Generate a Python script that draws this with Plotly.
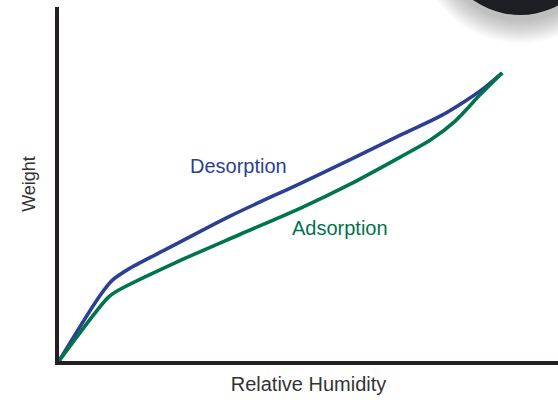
import plotly.graph_objects as go

# Relative humidity (% of full scale) and weight (% of full scale)
desorption_rh = [0, 9.3, 12.0, 16.0, 25.1, 38.6, 54.4, 65.7, 77.0, 86.0, 91.7, 96.2, 100]
desorption_wt = [0, 22.8, 28.0, 32.2, 39.5, 50.3, 61.6, 69.9, 78.4, 85.0, 90.3, 95.1, 100]

adsorption_rh = [0, 11.1, 13.3, 26.2, 40.9, 54.4, 65.7, 77.0, 83.8, 89.4, 95.0, 100]
adsorption_wt = [0, 22.1, 24.5, 34.1, 44.0, 53.0, 61.4, 70.8, 76.7, 83.3, 92.4, 100]

labels = ["Desorption", "Adsorption"]
label_rh = [40.4, 63.4]
label_wt = [67.7, 46.1]

BLUE = "#2b3f94"
GREEN = "#00744a"
AXIS = "#231f20"
FONT = "Liberation Sans, Arial, Helvetica, sans-serif"

fig = go.Figure()
fig.add_trace(go.Scatter(x=desorption_rh, y=desorption_wt, mode="lines",
                         line=dict(color=BLUE, width=3.6, shape="spline", smoothing=0.9),
                         cliponaxis=False, showlegend=False, hoverinfo="skip"))
fig.add_trace(go.Scatter(x=adsorption_rh, y=adsorption_wt, mode="lines",
                         line=dict(color=GREEN, width=3.6, shape="spline", smoothing=0.8),
                         cliponaxis=False, showlegend=False, hoverinfo="skip"))

for t, xx, yy, c in zip(labels, label_rh, label_wt, [BLUE, GREEN]):
    fig.add_annotation(x=xx, y=yy, text=t, showarrow=False,
                       font=dict(family=FONT, size=20, color=c))

# decorative dark disc with soft shadow at top-right (paper coords)
def px2paper(px, py):
    return (px - 59) / 499, (361 - py) / 354

n = 14
for i in range(n):
    r = 81 + 24 - i * (24 / n)
    cx, cy = 521, -62
    x0, y0 = px2paper(cx - r, cy + r)
    x1, y1 = px2paper(cx + r, cy - r)
    fig.add_shape(type="circle", xref="paper", yref="paper", x0=x0, y0=y0, x1=x1, y1=y1,
                  fillcolor="rgba(70,70,70,0.028)", line=dict(width=0), layer="below")
x0, y0 = px2paper(520 - 81, -66 + 81)
x1, y1 = px2paper(520 + 81, -66 - 81)
fig.add_shape(type="circle", xref="paper", yref="paper", x0=x0, y0=y0, x1=x1, y1=y1,
              fillcolor="#1d1e23", line=dict(width=0))

fig.update_layout(
    width=558, height=409,
    margin=dict(l=59, r=0, t=7, b=48),
    paper_bgcolor="white", plot_bgcolor="white",
    xaxis=dict(range=[0, 112.6], showgrid=False, zeroline=False, showticklabels=False,
               ticks="", showline=True, linecolor=AXIS, linewidth=4,
               title=dict(text="Relative Humidity", standoff=14,
                          font=dict(family=FONT, size=20, color="#333333"))),
    yaxis=dict(range=[0, 122.9], showgrid=False, zeroline=False, showticklabels=False,
               ticks="", showline=True, linecolor=AXIS, linewidth=4,
               title=dict(text="Weight", standoff=16,
                          font=dict(family=FONT, size=18, color="#333333"))),
)

fig.write_html("out.html", config={"displayModeBar": False})
with open("out.html", encoding="utf-8") as f:
    html = f.read()
html = html.replace("<head>", "<head><style>html,body{margin:0;padding:0;}</style>", 1)
with open("out.html", "w", encoding="utf-8") as f:
    f.write(html)
